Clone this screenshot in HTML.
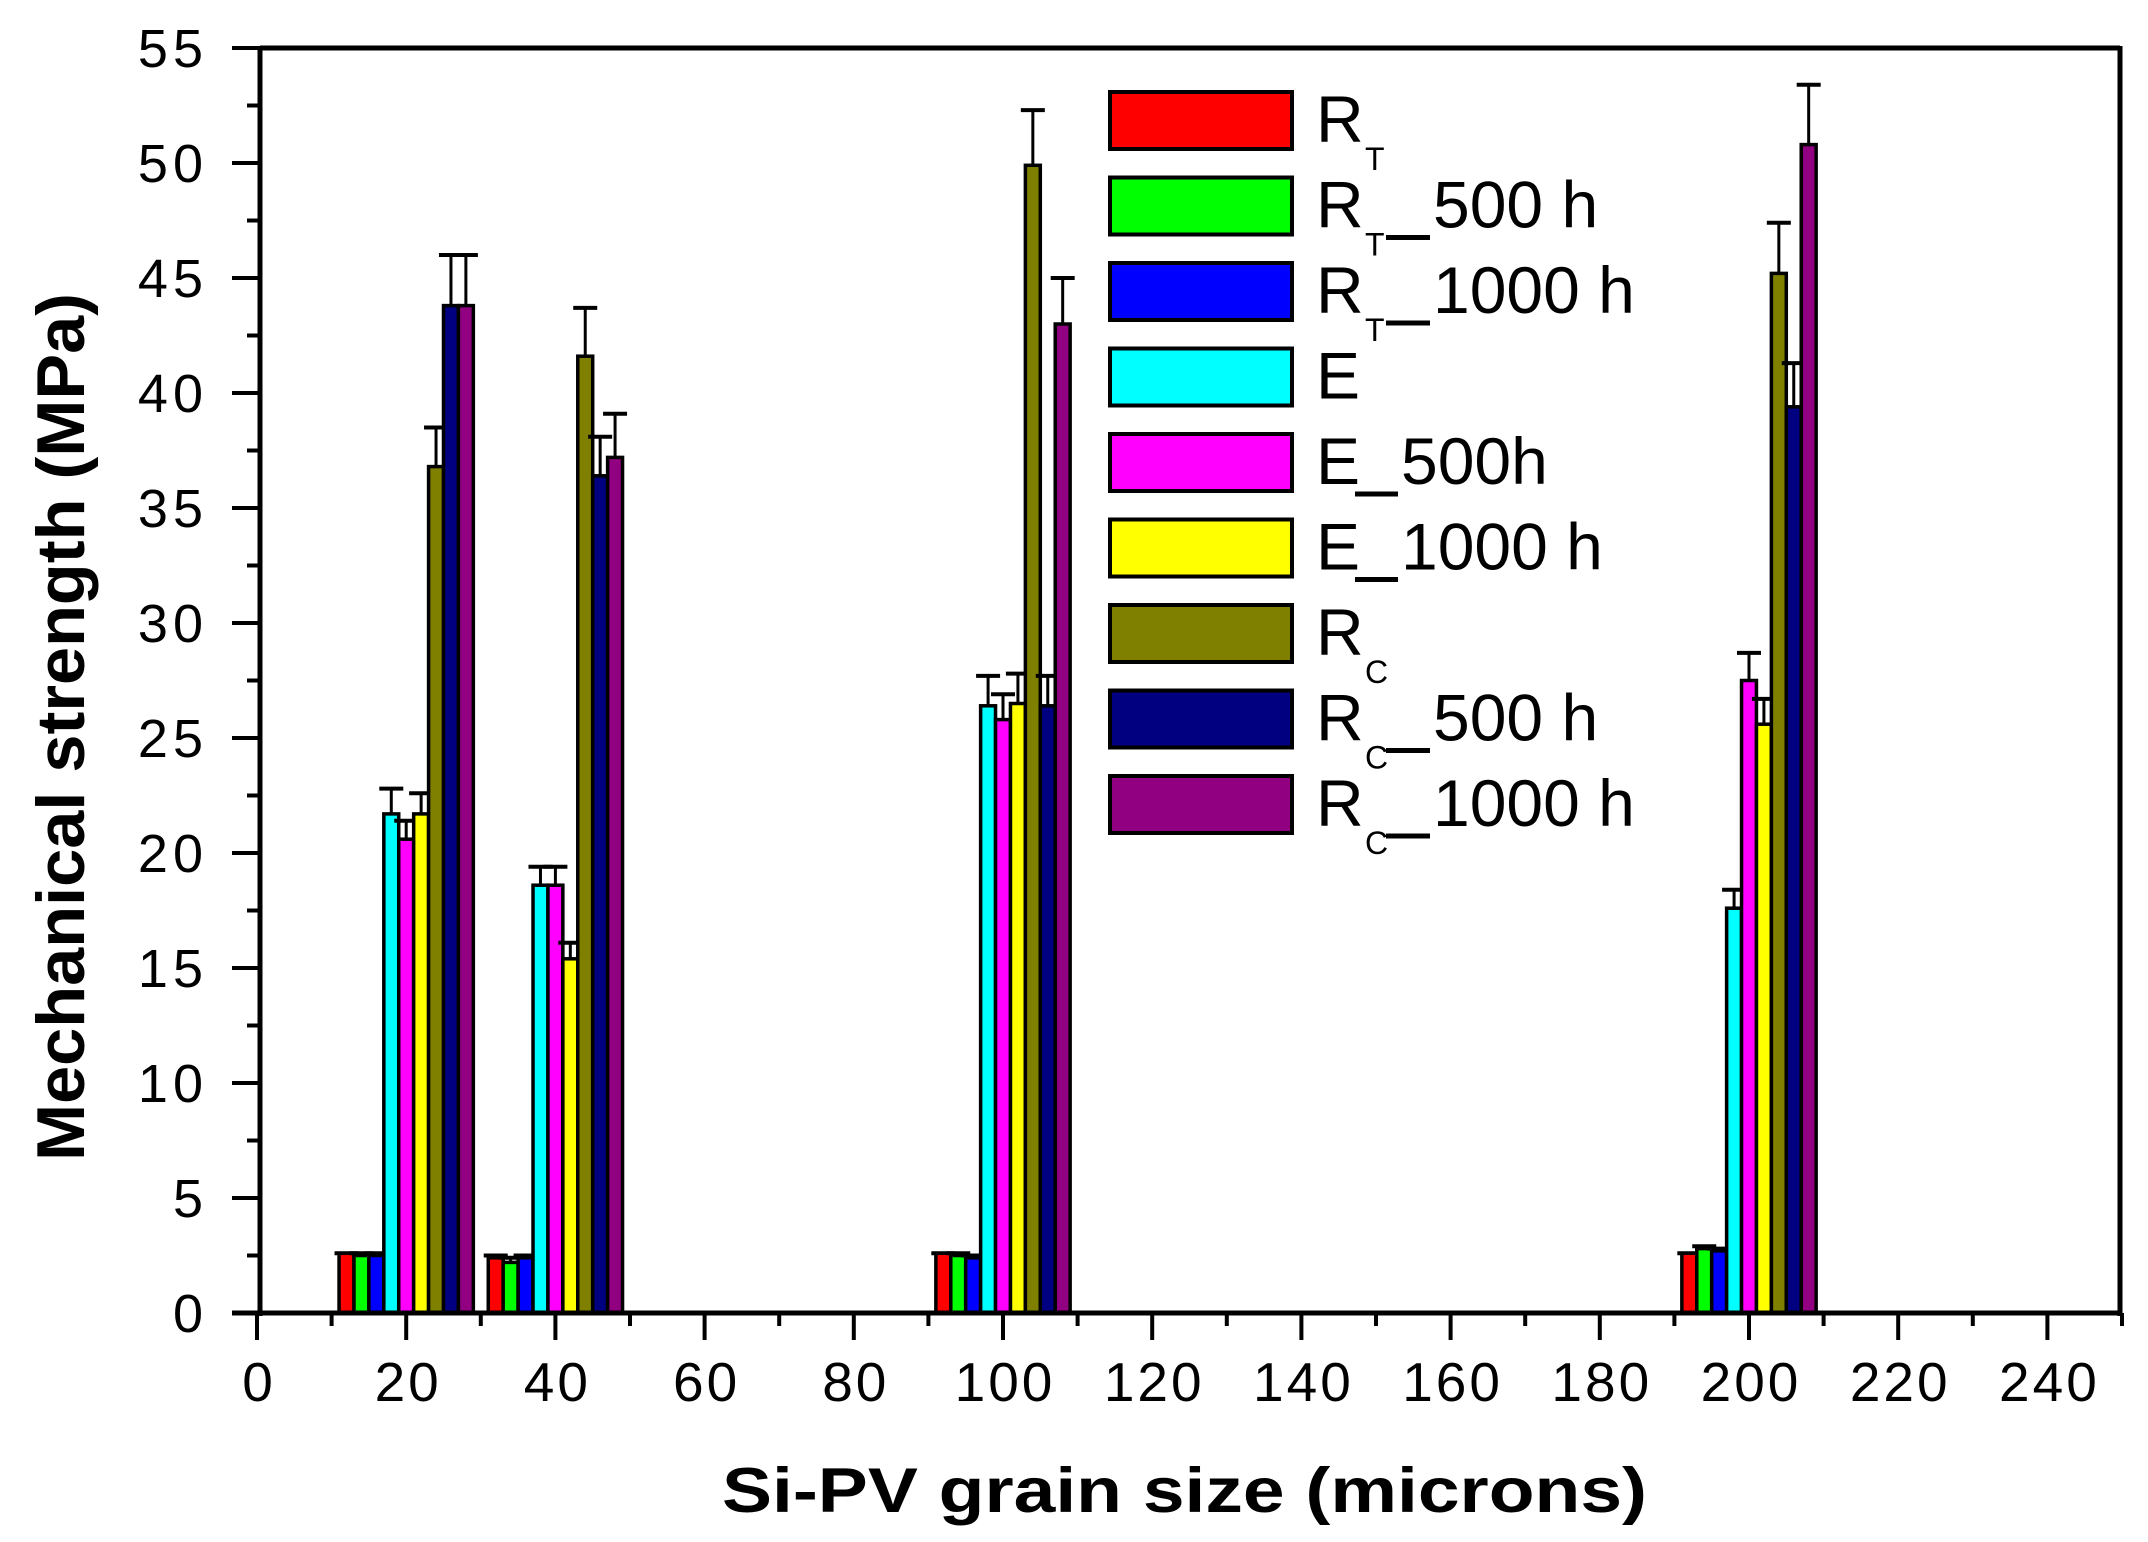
<!DOCTYPE html>
<html><head><meta charset="utf-8"><style>html,body{margin:0;padding:0;background:#fff}svg{display:block}</style></head>
<body>
<svg id="s" width="2148" height="1542" viewBox="0 0 2148 1542" xmlns="http://www.w3.org/2000/svg" font-family="Liberation Sans, Arial, sans-serif">
<rect width="2148" height="1542" fill="#fff"/>
<g id="bars"></g>
<g stroke="#000" stroke-width="5" fill="none">
<line x1="260" y1="48" x2="2120" y2="48"/>
<line x1="260" y1="46" x2="260" y2="1316"/>
<line x1="2120" y1="46" x2="2120" y2="1316"/>
<line x1="232" y1="1313" x2="2122" y2="1313"/>
</g>
<g id="ticks" stroke="#000" stroke-width="4"></g>
<g id="labels" font-size="54" fill="#000"></g>
<text x="722" y="1512" font-size="63" font-weight="bold" textLength="925" lengthAdjust="spacingAndGlyphs">Si-PV grain size (microns)</text>
<text transform="translate(84,1161) rotate(-90)" font-size="68" font-weight="bold" textLength="868" lengthAdjust="spacingAndGlyphs">Mechanical strength (MPa)</text>
<g id="legend"></g>
</svg>
<script>
var NS="http://www.w3.org/2000/svg";
function el(t,a,p){var e=document.createElementNS(NS,t);for(var k in a)e.setAttribute(k,a[k]);p.appendChild(e);return e;}
var X=function(v){return 257+v*7.46;}, Y=function(v){return 1313-v*23;};
var cols=["#ff0000","#00ff00","#0000ff","#00ffff","#ff00ff","#ffff00","#808000","#000080","#900080"];
var data={
20:[[2.6,2.6],[2.5,2.6],[2.5,2.6],[21.7,22.8],[20.6,21.4],[21.7,22.6],[36.8,38.5],[43.8,46],[43.8,46]],
40:[[2.4,2.5],[2.2,2.4],[2.4,2.5],[18.6,19.4],[18.6,19.4],[15.4,16.1],[41.6,43.7],[36.4,38.1],[37.2,39.1]],
100:[[2.6,2.6],[2.5,2.6],[2.4,2.5],[26.4,27.7],[25.8,26.9],[26.5,27.8],[49.9,52.3],[26.4,27.7],[43,45]],
200:[[2.6,2.6],[2.8,2.9],[2.7,2.8],[17.6,18.4],[27.5,28.7],[25.6,26.7],[45.2,47.4],[39.4,41.3],[50.8,53.4]]};
var B=document.getElementById("bars");
for(var c in data){c=+c;data[c].forEach(function(d,i){
 var x0=X(c-9+2*i),x1=X(c-7+2*i),xm=(x0+x1)/2;
 el("line",{x1:xm,y1:Y(d[1]),x2:xm,y2:Y(d[0]),stroke:"#000","stroke-width":3},B);
 el("line",{x1:xm-12,y1:Y(d[1]),x2:xm+12,y2:Y(d[1]),stroke:"#000","stroke-width":4},B);
 el("rect",{x:x0,y:Y(d[0]),width:x1-x0,height:Y(0)-Y(d[0]),fill:cols[i],stroke:"#000","stroke-width":3.5},B);
});}
var T=document.getElementById("ticks"),L=document.getElementById("labels");
for(var v=0;v<=55;v+=2.5){var y=Y(v),maj=(v%5==0);
 el("line",{x1:maj?232:247,y1:y,x2:260,y2:y},T);
 if(maj){var t=el("text",{x:208,y:y+19,"text-anchor":"end","letter-spacing":"5"},L);t.textContent=v;}}
for(var v=0;v<=250;v+=10){var x=X(v),maj=(v%20==0);
 el("line",{x1:x,y1:1313,x2:x,y2:maj?1340:1326},T);
 if(maj&&v<=240){var t=el("text",{x:x+2,y:1401,"text-anchor":"middle","font-size":"55","letter-spacing":"3"},L);t.textContent=v;}}
var G=document.getElementById("legend");
var labs=[["R","T",""],["R","T","500 h"],["R","T","1000 h"],["E","",""],["E","","500h",1],["E","","1000 h",1],["R","C",""],["R","C","500 h"],["R","C","1000 h"]];
labs.forEach(function(l,i){var top=92+i*85.5;
 el("rect",{x:1110,y:top,width:182,height:57,fill:cols[i],stroke:"#000","stroke-width":4},G);
 var t=el("text",{x:1316,y:top+50,"font-size":"66"},G);t.textContent=l[0];
 if(l[1]){var s=el("text",{x:1365,y:top+78,"font-size":"32"},G);s.textContent=l[1];}
 if(l[2]){var ux0=l[3]?1355:1386,ux1=l[3]?1398:1430;
  el("line",{x1:ux0,y1:top+60,x2:ux1,y2:top+60,stroke:"#000","stroke-width":5},G);
  var t2=el("text",{x:ux1+3,y:top+50,"font-size":"66"},G);t2.textContent=l[2];}
});
</script>
</body></html>
